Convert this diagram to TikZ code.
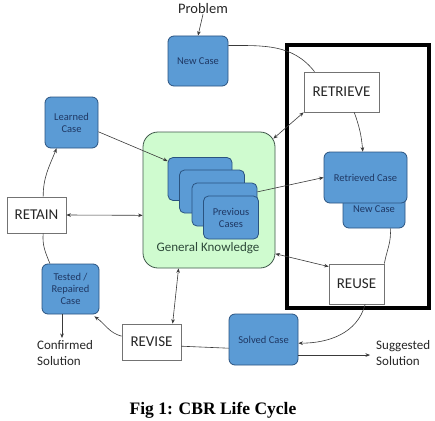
\documentclass[tikz,border=0pt]{standalone}
\usepackage{fontspec}
\setmainfont{Carlito}
\newfontfamily\capfont{Liberation Serif}
\usetikzlibrary{arrows.meta,calc}
\definecolor{cbrblue}{HTML}{5B9BD5}
\definecolor{cbredge}{HTML}{2A5380}
\definecolor{cbrtext}{HTML}{1F3864}
\definecolor{gkfill}{HTML}{CFFBCF}
\definecolor{gkedge}{HTML}{3F584A}
\definecolor{gktext}{HTML}{2E4A3A}
\definecolor{lineclr}{HTML}{3A3A3A}
\begin{document}
\begin{tikzpicture}[x=1pt,y=-1pt,
  bluebox/.style={draw=cbredge, fill=cbrblue, rounded corners=6pt, line width=0.8pt,
    text=cbrtext, font=\fontsize{10.5}{12}\selectfont, align=center, inner sep=1pt},
  cardbox/.style={bluebox, rounded corners=5pt, minimum width=65pt, minimum height=43pt},
  whitebox/.style={draw=black!55, fill=white, line width=0.7pt,
    font=\fontsize{15}{18}\selectfont, text=black!85, inner sep=0pt},
  conn/.style={draw=lineclr, line width=0.6pt},
  arr/.style={conn, -{Stealth[length=4.5pt,width=3.6pt]}},
  darr/.style={conn, {Stealth[length=4.5pt,width=3.6pt]}-{Stealth[length=4.5pt,width=3.6pt]}},
  plain/.style={font=\fontsize{13}{16}\selectfont, text=black!85, align=left, inner sep=0pt}
]
\useasboundingbox (0,0) rectangle (435,420);
\fill[white] (0,0) rectangle (435,420);

% thick frame
\draw[line width=4pt, black] (287,45) rectangle (429,308);

% general knowledge
\node[draw=gkedge, fill=gkfill, rounded corners=15pt, line width=0.8pt,
  minimum width=132pt, minimum height=136pt] (green) at (209,200) {};
\node[font=\fontsize{13}{16}\selectfont, text=gktext] (gklab) at (208,248) {General Knowledge};

% previous cases stack
\node[cardbox, minimum width=64pt] (card1) at (200,179) {};
\node[cardbox] (card2) at (212,191.5) {};
\node[cardbox] (card3) at (224.5,204.5) {};
\node[cardbox, minimum width=55pt] (card4) at (231,217.5) {Previous\\Cases};

% blue cases
\node[bluebox, minimum width=60pt, minimum height=50pt] (newcase) at (198,61) {New Case};
\node[bluebox, minimum width=53pt, minimum height=51pt] (learned) at (71.5,122.5) {Learned\\Case};
\node[bluebox, minimum width=57pt, minimum height=50pt] (tested) at (70.5,289) {Tested /\\Repaired\\Case};
\node[bluebox, minimum width=69pt, minimum height=51pt] (solved) at (263.5,339.5) {Solved Case};
\node[bluebox, minimum width=62pt, minimum height=38pt] (newcaseb) at (374,209) {New Case};
\node[bluebox, minimum width=83pt, minimum height=51pt] (retrieved) at (365.5,177.5) {Retrieved Case};

% process boxes
\node[whitebox, minimum width=59pt, minimum height=36pt] (retain) at (36.5,215) {RETAIN};
\node[whitebox, minimum width=59pt, minimum height=36pt] (revise) at (151.5,342) {REVISE};
\node[whitebox, minimum width=75pt, minimum height=40pt] (retrieve) at (341.5,92) {RETRIEVE};
\node[whitebox, minimum width=55pt, minimum height=40pt] (reuse) at (356.5,284) {REUSE};

% free texts
\node[plain, font=\fontsize{14.5}{17}\selectfont] (problem) at (203,9) {Problem};
\node[plain, anchor=north west] (confirmed) at (37,340) {Confirmed\\Solution};
\node[plain, anchor=west] (suggested) at (376,353) {Suggested\\Solution};
\node[font=\capfont\bfseries\fontsize{17.5}{20}\selectfont] (caption) at (213,410) {Fig 1: CBR Life Cycle};

\coordinate (confpt) at (62,338);

% connectors
\draw[arr] (problem.south) -- (newcase.north);
\draw[conn] (newcase.27) to[out=0,in=128] (retrieve.143);
\draw[arr] (retrieve.-58) to[out=-70,in=95] (retrieved.96);
\draw[darr] ($(green.north east)+(-2,7)$) -- (retrieve.south west);
\draw[arr] (card3.21) -- (retrieved.west);
\draw[darr] (green.-39) -- (reuse.148);
\draw[conn] (newcaseb.-50) to[out=-85,in=80] (reuse.north east);
\draw[arr] (reuse.-67) to[out=-105,in=0] (solved.-6);
\draw[conn] (solved.194) -- (revise.-8);
\draw[darr] (revise.41) -- (green.-114);
\draw[arr] (revise.169) to[out=165,in=-35] ($(tested.south east)+(-5,2)$);
\draw[conn] (tested.129) to[out=112,in=-95] (retain.-70);
\draw[arr] (retain.70) to[out=90,in=-112] (learned.-120);
\draw[darr] (retain.east) -- (green.-167);
\draw[arr] (learned.-19) -- (card1.151);
\draw[arr] (tested.south -| confpt) -- (confpt);
\draw[arr] (solved.-24) -- ($(solved.-24 -| suggested.west)+(-6,0)$);
\end{tikzpicture}
\end{document}
